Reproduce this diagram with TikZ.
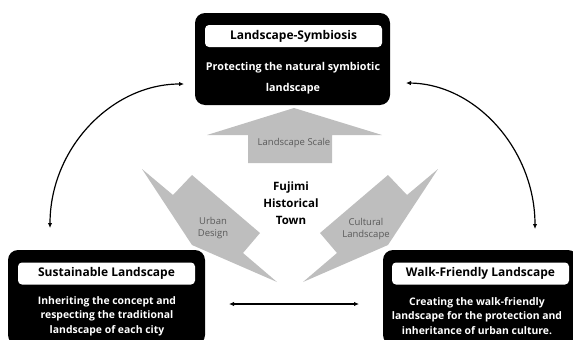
\documentclass[tikz,border=0pt]{standalone}
\usepackage{fontspec}
\setmainfont{Open Sans}
\usetikzlibrary{arrows.meta}

\definecolor{arrowgray}{RGB}{190,190,190}
\definecolor{labelgray}{RGB}{90,90,90}

\tikzset{
  box/.style={fill=black, rounded corners=10pt, inner sep=0pt},
  titlebox/.style={fill=white, rounded corners=4pt, inner sep=0pt, minimum width=177pt, minimum height=22pt, font=\fontsize{12}{13}\selectfont\bfseries},
  boxtext/.style={text=white, align=center, inner sep=0pt, font=\fontsize{10.4}{14.5}\selectfont\bfseries},
  graylabel/.style={text=labelgray, align=center, inner sep=0pt, font=\fontsize{9.5}{12}\selectfont},
  link/.style={<->, line width=1.2pt},
}

\begin{document}
\begin{tikzpicture}[x=1pt,y=-1pt,>={Latex[length=5pt,width=4.5pt]}]

   \useasboundingbox (0,0) rectangle (573,340);
   \clip (0,0) rectangle (573,340);

%   gray arrows
   \fill[arrowgray] (294,108) -- (382,135) -- (332,135) -- (332,163) -- (248,163) -- (248,135) -- (207,135) -- cycle;
   \fill[arrowgray] (142,169) -- (173,195) -- (192,175) -- (260,233) -- (243,253) -- (277,282) -- (192,245) -- cycle;
   \fill[arrowgray] (438,169) -- (407,195) -- (388,175) -- (320,233) -- (337,253) -- (303,282) -- (388,245) -- cycle;

   \node[graylabel] (scale) at (294,143) {Landscape Scale};
   \node[graylabel] (urban) at (213,228) {Urban\\Design};
   \node[graylabel] (cultural) at (366,229) {Cultural\\Landscape};

   \node[align=center, inner sep=0pt, font=\fontsize{11.5}{17}\selectfont\bfseries] (fujimi) at (291,203) {Fujimi\\Historical\\Town};

%   boxes
   \node[box, minimum width=195pt, minimum height=92pt] (symb) at (292.5,59) {};
   \node[titlebox] (symbtitle) at (293.5,36) {Landscape-Symbiosis};
   \node[boxtext, font=\fontsize{10.75}{21}\selectfont\bfseries] (symbtext) at (293,78.5) {Protecting the natural symbiotic\\landscape};

   \node[box, minimum width=197pt, minimum height=95pt] (sust) at (106.5,297.5) {};
   \node[titlebox] (susttitle) at (106.5,273.5) {Sustainable Landscape};
   \node[boxtext] (susttext) at (107,316) {Inheriting the concept and\\respecting the traditional\\landscape of each city};

   \node[box, minimum width=195pt, minimum height=95pt] (walk) at (480.5,297.5) {};
   \node[titlebox] (walktitle) at (480.5,273.5) {Walk-Friendly Landscape};
   \node[boxtext] (walktext) at (477,316) {Creating the walk-friendly\\landscape for the protection and\\inheritance of urban culture.};

%   connectors
   \coordinate (symbW) at (184,84);
   \coordinate (symbE) at (406,83);
   \coordinate (sustN) at (50,228);
   \coordinate (walkN) at (535,229);
   \coordinate (sustE) at (229,304);
   \coordinate (walkW) at (359,304);

   \draw[link] (symbW) .. controls (112,84) and (50,148) .. (sustN);
   \draw[link] (symbE) .. controls (476,84) and (535,150) .. (walkN);
   \draw[link] (sustE) -- (walkW);

\end{tikzpicture}
\end{document}
